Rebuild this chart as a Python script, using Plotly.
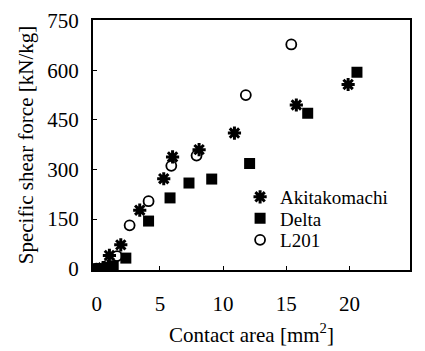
import plotly.graph_objects as go

aki_x = [0.5, 0.9, 1.0, 1.9, 3.4, 5.3, 6.0, 8.1, 10.9, 15.8, 19.9]
aki_y = [3, 8, 40, 72, 177, 272, 338, 360, 410, 495, 557]
delta_x = [0.0, 0.8, 1.3, 2.3, 4.1, 5.8, 7.3, 9.1, 12.1, 16.7, 20.6]
delta_y = [0, 2, 8, 32, 144, 214, 259, 271, 318, 470, 594]
l201_x = [0.0, 1.6, 2.6, 4.1, 5.9, 7.9, 11.8, 15.4]
l201_y = [0, 38, 131, 204, 311, 342, 525, 678]

x_ticks = [0, 5, 10, 15, 20, 25]
y_ticks = [0, 150, 300, 450, 600, 750]

font = "Liberation Serif"

fig = go.Figure()
fig.add_trace(go.Scatter(x=aki_x, y=aki_y, mode="markers", name="Akitakomachi", legend="legend",
                         marker=dict(symbol="asterisk-open", size=11, color="black",
                                     line=dict(color="black", width=3))))
fig.add_trace(go.Scatter(x=delta_x, y=delta_y, mode="markers", name="Delta", legend="legend2",
                         marker=dict(symbol="square", size=11, color="black")))
fig.add_trace(go.Scatter(x=l201_x, y=l201_y, mode="markers", name="L201", legend="legend3",
                         marker=dict(symbol="circle-open", size=10, color="black",
                                     line=dict(color="black", width=1.8))))

axis_common = dict(showline=True, linecolor="black", linewidth=2, mirror=True,
                   ticks="inside", ticklen=4, tickcolor="black", showgrid=False,
                   zeroline=False, automargin=False,
                   tickfont=dict(family=font, size=21, color="black"))

leg_common = dict(x=0.464, xanchor="left", yanchor="middle",
                  font=dict(family=font, size=19, color="black"),
                  bgcolor="rgba(0,0,0,0)", itemwidth=30)

fig.update_layout(
    width=425, height=351,
    margin=dict(l=93, r=15, t=20, b=81),
    paper_bgcolor="white", plot_bgcolor="white",
    font=dict(family=font, color="black"),
    showlegend=True,
    legend=dict(y=0.292, **leg_common),
    legend2=dict(y=0.206, **leg_common),
    legend3=dict(y=0.120, **leg_common),
    xaxis=dict(range=[-0.3, 24.8], tickvals=x_ticks, ticklabelstandoff=14,
               title=dict(text="Contact area [mm<sup>2</sup>]", font=dict(family=font, size=21),
                          standoff=12),
               **axis_common),
    yaxis=dict(range=[-4, 752], tickvals=y_ticks, ticklabelstandoff=8,
               title=dict(text="Specific shear force [kN/kg]", font=dict(family=font, size=21),
                          standoff=8),
               **axis_common),
)

fig.write_html("out.html")
